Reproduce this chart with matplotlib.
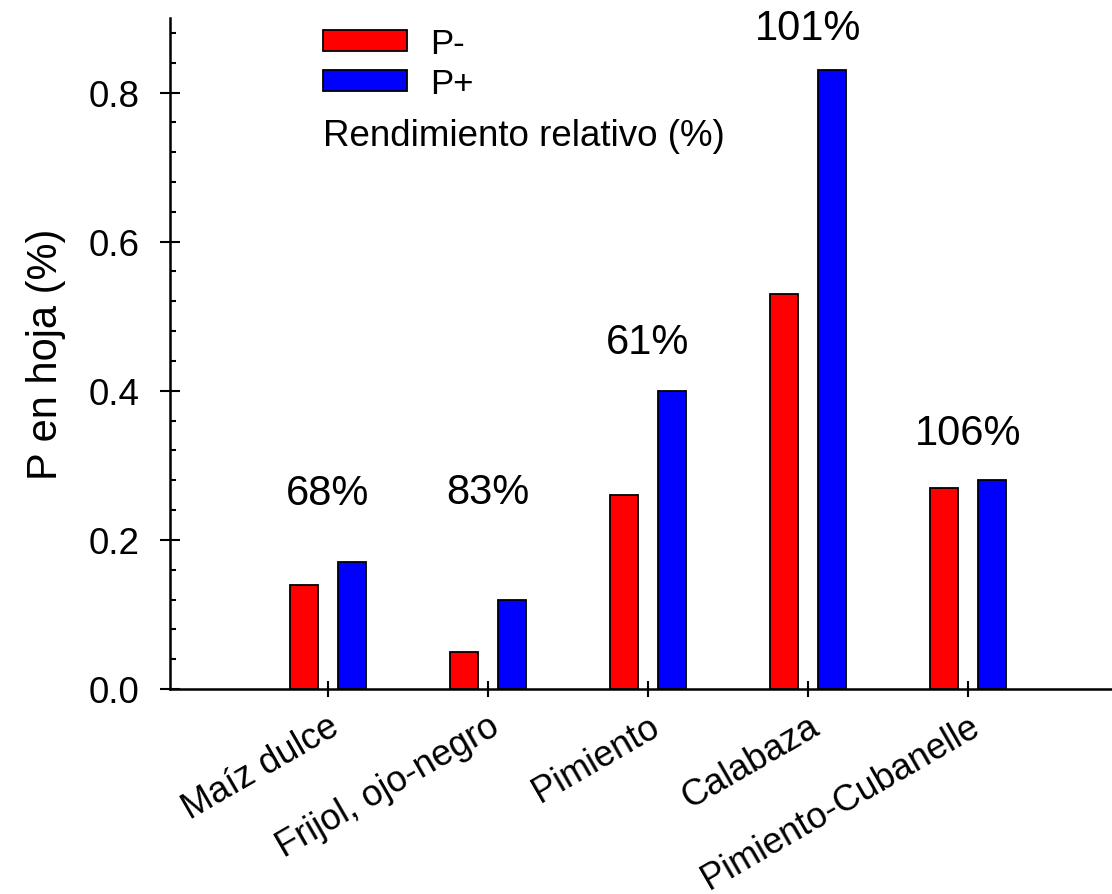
import matplotlib
matplotlib.use("Agg")
import matplotlib.pyplot as plt
import numpy as np
from matplotlib.patches import Patch
from matplotlib.ticker import MultipleLocator

plt.rcParams['font.family'] = ['Liberation Sans', 'DejaVu Sans']

cultivos = ["Maíz dulce", "Frijol, ojo-negro", "Pimiento", "Calabaza", "Pimiento-Cubanelle"]
p_menos = [0.14, 0.05, 0.26, 0.53, 0.27]
p_mas = [0.17, 0.12, 0.40, 0.83, 0.28]
rendimiento = ["68%", "83%", "61%", "101%", "106%"]
rend_y = [0.263, 0.264, 0.465, 0.887, 0.344]

fig = plt.figure(figsize=(11.12, 8.95), dpi=100)
ax = fig.add_axes([170 / 1112, 205 / 895, 942 / 1112, 671 / 895])

x = np.arange(len(cultivos))
w = 0.18
off = 0.15
ax.bar(x - off, p_menos, w, color="#ff0000", edgecolor="black", linewidth=1.3, label="P-")
ax.bar(x + off, p_mas, w, color="#0000ff", edgecolor="black", linewidth=1.3, label="P+")

for xi, t, yi in zip(x, rendimiento, rend_y):
    ax.text(xi, yi, t, ha="center", va="center", fontsize=30)

ax.set_xlim(-0.9875, 4.9)
ax.set_ylim(0, 0.9)
ax.spines["top"].set_visible(False)
ax.spines["right"].set_visible(False)
for s in ("left", "bottom"):
    ax.spines[s].set_linewidth(1.8)

ax.yaxis.set_major_locator(MultipleLocator(0.2))
ax.yaxis.set_minor_locator(MultipleLocator(0.04))
ax.set_yticks([0.0, 0.2, 0.4, 0.6, 0.8])
ax.set_yticklabels(["0.0", "0.2", "0.4", "0.6", "0.8"])
ax.tick_params(axis="y", which="major", direction="inout", length=13.7, width=1.5,
               labelsize=26.5, pad=15)
ax.tick_params(axis="y", which="minor", direction="in", length=4.5, width=1.5)

ax.set_xticks(x)
ax.set_xticklabels(cultivos, rotation=30, ha="right", rotation_mode="anchor", fontsize=26)
ax.tick_params(axis="x", which="major", direction="inout", length=12, width=1.5, pad=8)

ax.set_ylabel("P en hoja (%)", fontsize=30, labelpad=16)

handles = [Patch(facecolor="#ff0000", edgecolor="black", linewidth=1.3, label="P-"),
           Patch(facecolor="#0000ff", edgecolor="black", linewidth=1.3, label="P+")]
fig.legend(handles=handles, loc="upper left", bbox_to_anchor=(323 / 1112, 1 - 28 / 895),
           frameon=False, fontsize=25, handlelength=2.42, handleheight=0.55,
           handletextpad=0.66, labelspacing=0.2, borderpad=0, borderaxespad=0)
fig.text(323 / 1112, 1 - 136 / 895, "Rendimiento relativo (%)", fontsize=26.5,
         ha="left", va="center")

fig.savefig("out.png", dpi=100)
